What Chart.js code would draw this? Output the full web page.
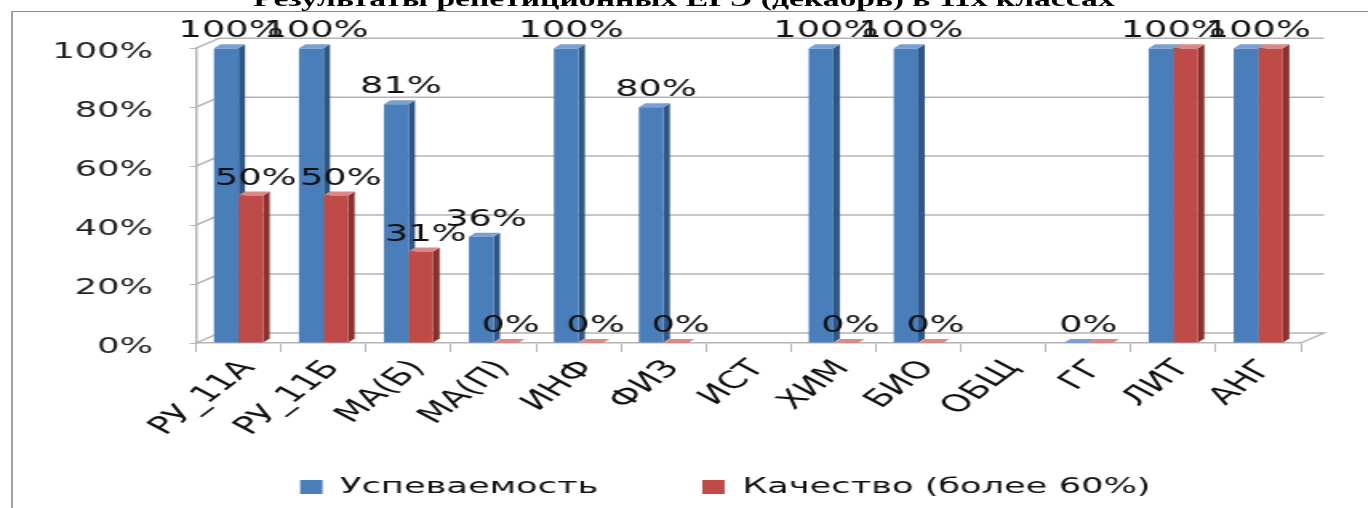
<!DOCTYPE html>
<html>
<head>
<meta charset="utf-8">
<script src="https://cdn.jsdelivr.net/npm/chart.js@4/dist/chart.umd.min.js"></script>
<style>
    html, body { margin: 0; padding: 0; background: #fff; overflow: hidden; }
    /* the source picture is a chart stretched sideways, so the whole page is drawn narrow and scaled */
    #page { position: absolute; left: 0; top: 0; width: 855px; height: 508px; transform: scaleX(1.6); transform-origin: 0 0; overflow: hidden; }
    #title { position: absolute; left: 0; top: -11px; width: 855px; text-align: center; font: bold 21px 'Liberation Serif', serif; line-height: 20px; color: #000; white-space: nowrap; }
    #frame { position: absolute; left: 7px; top: 11px; width: 900px; height: 600px; border: 1px solid #8c8c8c; }
    #frame canvas { position: absolute; left: 0; top: 0; }
</style>
</head>
<body>
<div id="page">
    <div id="title">Результаты репетиционных ЕГЭ (декабрь) в 11х классах</div>
    <div id="frame"><canvas id="chart" width="847" height="496"></canvas></div>
</div>
<script>
const categories = ['РУ_11А', 'РУ_11Б', 'МА(Б)', 'МА(П)', 'ИНФ', 'ФИЗ', 'ИСТ', 'ХИМ', 'БИО', 'ОБЩ', 'ГГ', 'ЛИТ', 'АНГ'];
const seriesNames = ['Успеваемость', 'Качество (более 60%)'];
const passRate = [100, 100, 81, 36, 100, 80, null, 100, 100, null, 0, 100, 100];
const qualityRate = [50, 50, 31, 0, 0, 0, null, 0, 0, null, 0, 100, 100];
const yTicks = [0, 20, 40, 60, 80, 100];

const faces = [
    { front: '#4a7ebb', side: '#2f5685', top: '#7a9fd0' },
    { front: '#be4b48', side: '#8a302e', top: '#d98a88' }
];
const depth = { wallX: 14.5, wallY: -10, barX: 4, barY: -4 };
const gridColor = '#b4b4b4';
const font = "'DejaVu Sans', Verdana, sans-serif";

Chart.defaults.font.family = font;
Chart.defaults.color = '#1a1a1a';

// back wall, floor and the side/top faces of the columns
const pseudo3d = {
    id: 'pseudo3d',
    beforeDatasetsDraw(chart) {
        const { ctx, chartArea: a, scales: { y } } = chart;
        ctx.save();
        ctx.strokeStyle = gridColor;
        ctx.lineWidth = 1.5;
        yTicks.forEach(v => {
            const py = y.getPixelForValue(v);
            ctx.beginPath();
            ctx.moveTo(a.left, py);
            ctx.lineTo(a.left + depth.wallX, py + depth.wallY);
            ctx.lineTo(a.right + depth.wallX, py + depth.wallY);
            if (v === 0) ctx.lineTo(a.right, py);
            ctx.stroke();
        });

        chart.data.datasets.forEach((ds, di) => {
            const meta = chart.getDatasetMeta(di);
            meta.data.forEach((bar, i) => {
                if (ds.data[i] == null) return;
                const { x, y: top, base, width } = bar.getProps(['x', 'y', 'base', 'width'], true);
                const l = x - width / 2, r = x + width / 2;
                const dx = depth.barX, dy = depth.barY;
                ctx.fillStyle = faces[di].side;
                ctx.beginPath();
                ctx.moveTo(r, top);
                ctx.lineTo(r + dx, top + dy);
                ctx.lineTo(r + dx, base + dy);
                ctx.lineTo(r, base);
                ctx.closePath();
                ctx.fill();
                ctx.fillStyle = faces[di].top;
                ctx.beginPath();
                ctx.moveTo(l, top);
                ctx.lineTo(l + dx, top + dy);
                ctx.lineTo(r + dx, top + dy);
                ctx.lineTo(r, top);
                ctx.closePath();
                ctx.fill();
            });
        });
        ctx.restore();
    },
    afterDatasetsDraw(chart) {
        const { ctx } = chart;
        const pass = chart.getDatasetMeta(0).data;
        const quality = chart.getDatasetMeta(1).data;
        ctx.save();
        ctx.font = '23px ' + font;
        ctx.fillStyle = '#111';
        ctx.textAlign = 'center';
        ctx.textBaseline = 'alphabetic';
        categories.forEach((c, i) => {
            const p = passRate[i], q = qualityRate[i];
            if (p != null && p === q) {
                // equal pair: the source shows one label over the pair
                ctx.fillText(p + '%', (pass[i].x + quality[i].x) / 2, pass[i].y - 11);
                return;
            }
            if (p != null) ctx.fillText(p + '%', pass[i].x + 3, pass[i].y - 11);
            if (q != null) ctx.fillText(q + '%', quality[i].x + 3, quality[i].y - 11);
        });
        ctx.restore();
    }
};

new Chart(document.getElementById('chart'), {
    type: 'bar',
    data: {
        labels: categories,
        datasets: [
            { label: seriesNames[0], data: passRate, backgroundColor: faces[0].front, categoryPercentage: 0.58, barPercentage: 1 },
            { label: seriesNames[1], data: qualityRate, backgroundColor: faces[1].front, categoryPercentage: 0.58, barPercentage: 1 }
        ]
    },
    options: {
        responsive: false,
        animation: false,
        layout: { padding: { top: 36, right: 42, left: 0, bottom: 0 } },
        plugins: {
            legend: {
                position: 'bottom',
                align: 'start',
                fullSize: false,
                labels: { boxWidth: 14, boxHeight: 14, padding: 65, font: { size: 22 }, color: '#111' }
            },
            tooltip: { enabled: false }
        },
        scales: {
            x: {
                grid: { drawOnChartArea: false, tickLength: 9, color: gridColor },
                border: { color: gridColor, width: 1.5 },
                ticks: { autoSkip: false, maxRotation: 50, minRotation: 50, labelOffset: 6, padding: 3, font: { size: 24 }, color: '#111' },
                afterFit: s => {
                    s.height = 68;
                    // the slanted labels run down past the axis box into the legend band; don't clip them
                    s._computeLabelArea = () => undefined;
                }
            },
            y: {
                min: 0,
                max: 100,
                grid: { drawOnChartArea: false, tickLength: 4, color: gridColor },
                border: { color: gridColor, width: 1.5 },
                ticks: { stepSize: 20, padding: 23, labelOffset: 4, font: { size: 22 }, color: '#222', callback: v => v + '%' },
                afterFit: s => { s.width = 114.6; }
            }
        }
    },
    plugins: [pseudo3d]
});
</script>
</body>
</html>
